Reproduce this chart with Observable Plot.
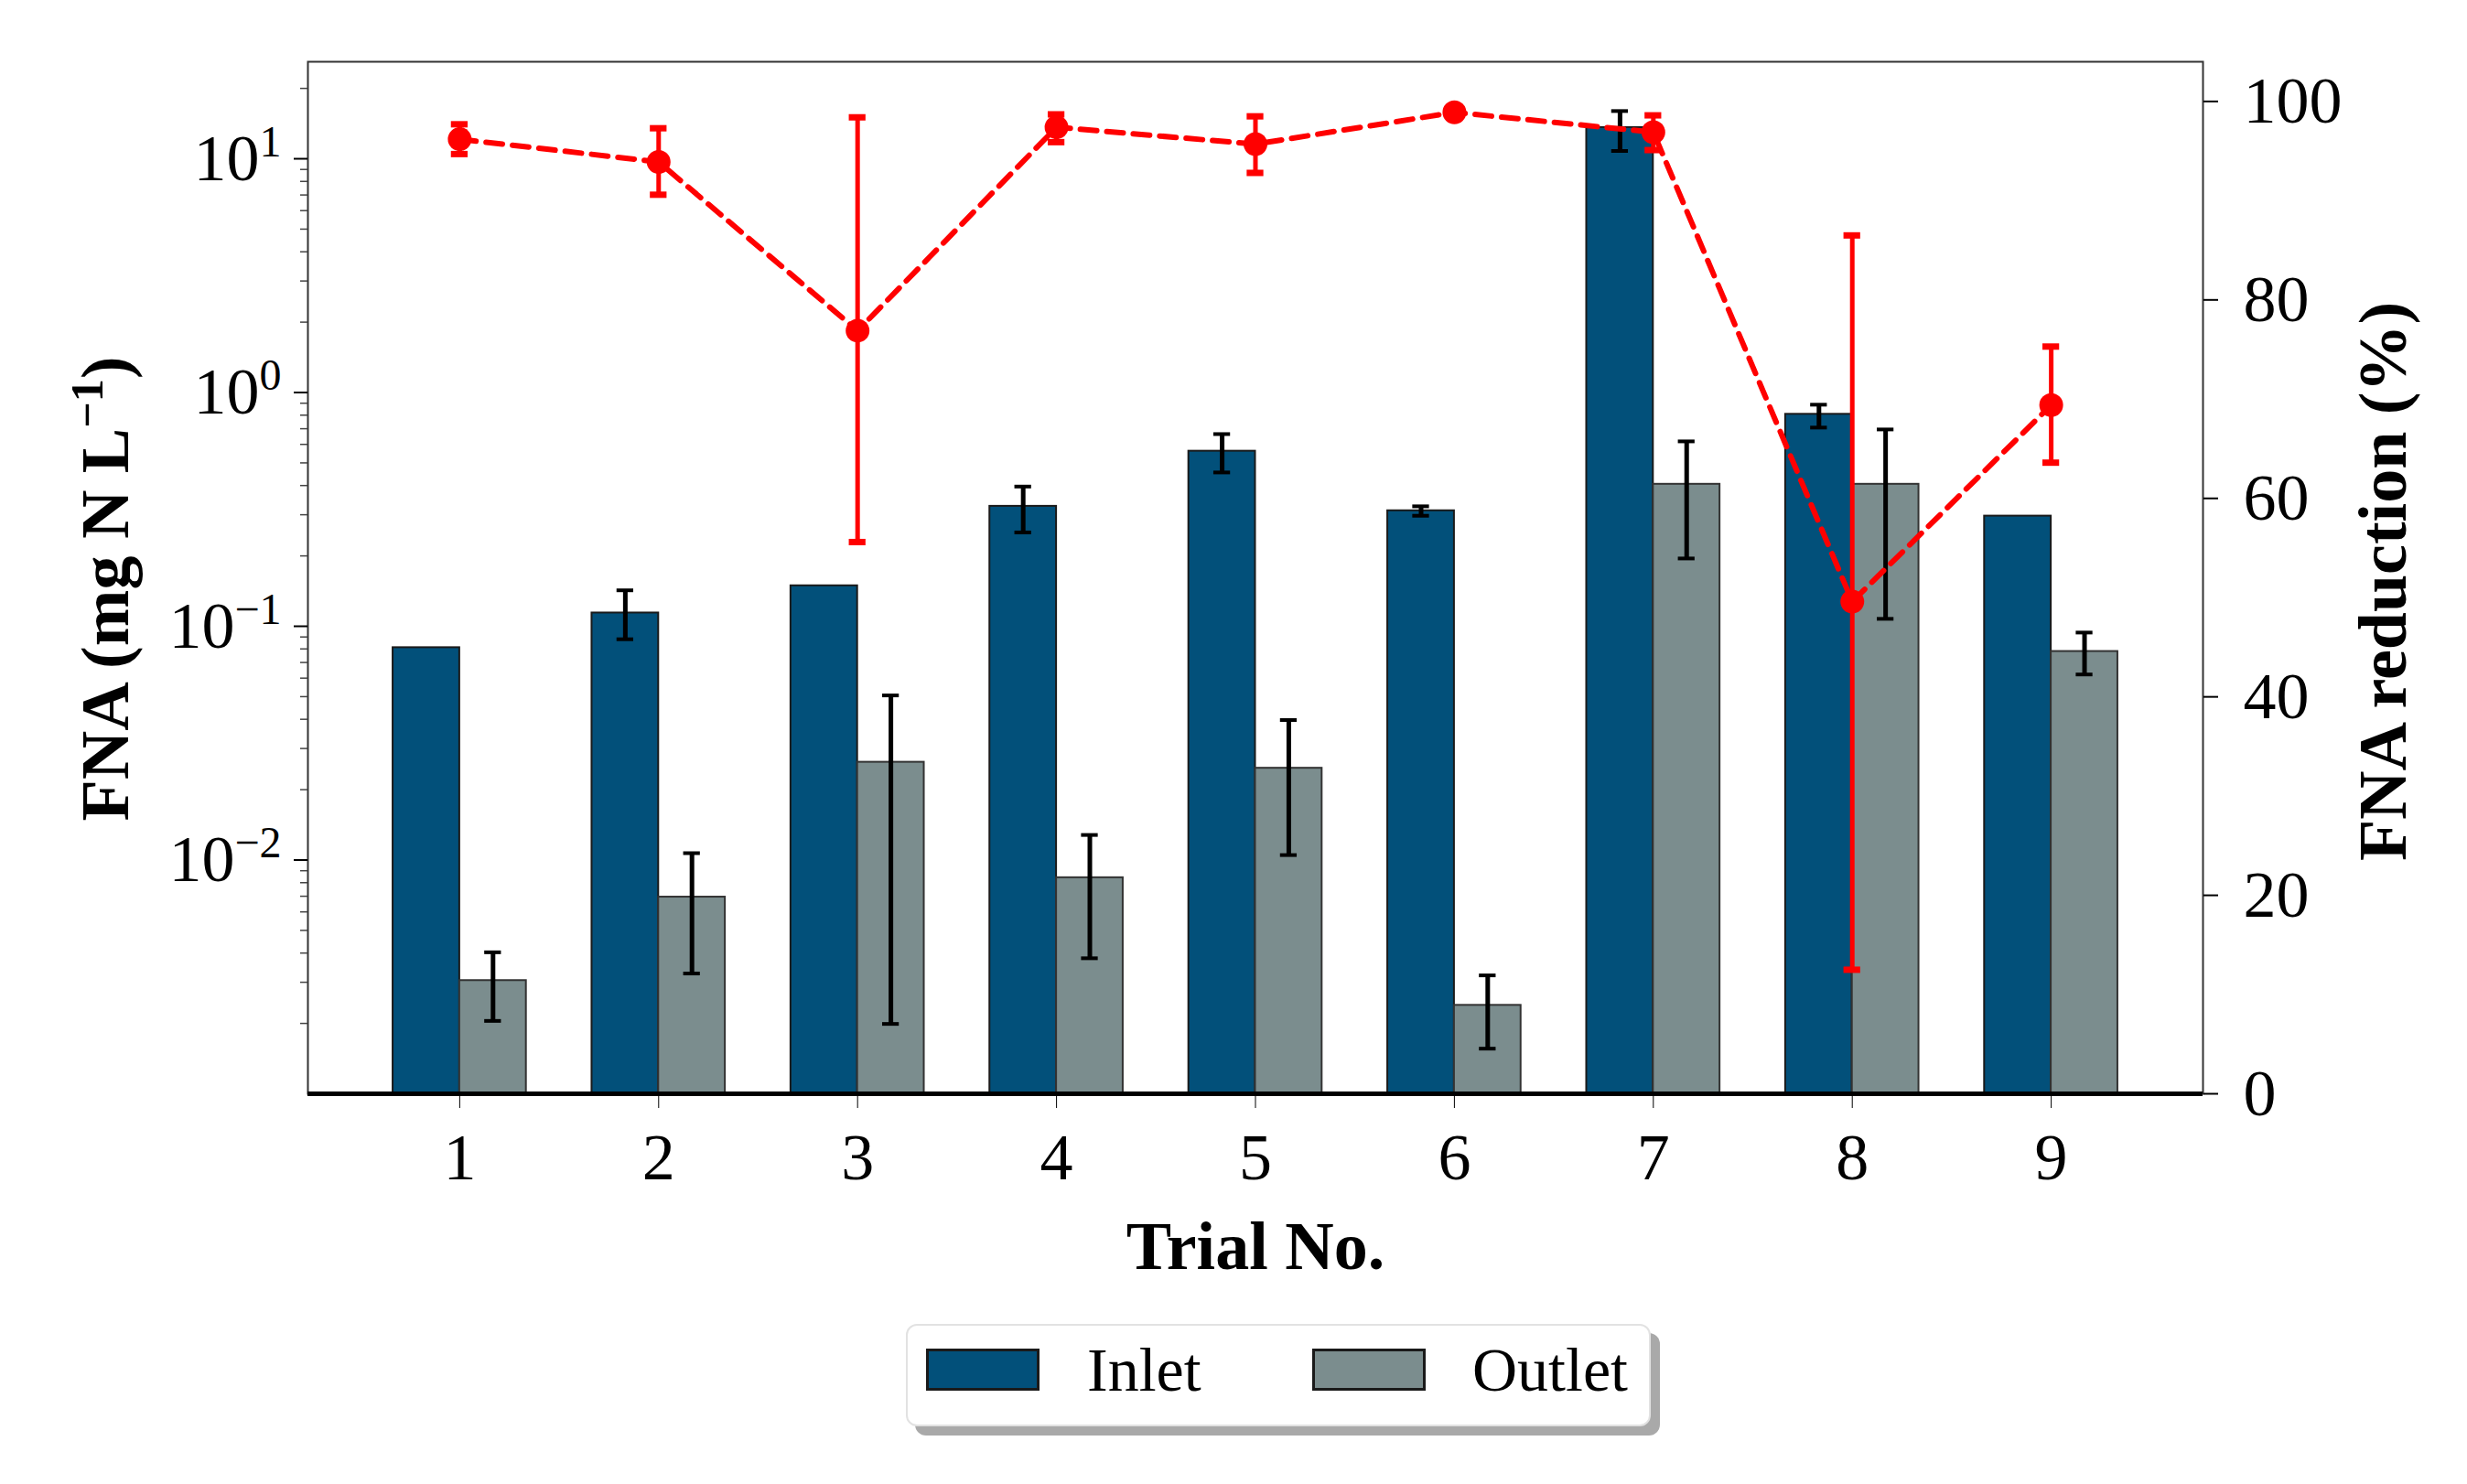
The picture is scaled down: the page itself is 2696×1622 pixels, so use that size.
<!DOCTYPE html>
<html>
<head>
<meta charset="utf-8">
<script src="https://cdn.jsdelivr.net/npm/d3@7"></script>
<script src="https://cdn.jsdelivr.net/npm/@observablehq/plot@0.6"></script>
<style>
  body { margin: 0; background: #fff; font-family: "Liberation Serif", "DejaVu Serif", serif; }
  #chart { position: relative; width: 2696px; height: 1400px; }
  #chart svg { position: absolute; left: 0; top: 0; }
  .legend { position: absolute; left: 990px; top: 1447px; width: 814px; height: 112px; box-sizing: border-box;
    border: 2px solid #e2e2e2; border-radius: 12px; background: #fff; box-shadow: 10px 10px 0 #a9a9a9; }
  .legend .sw { position: absolute; top: 25px; width: 124px; height: 46px; box-sizing: border-box; border: 3px solid #1a1a1a; }
  .legend .lab { position: absolute; top: 10px; font-size: 68px; line-height: 76px; color: #000; }
</style>
</head>
<body>
<div id="chart"></div>
<div class="legend">
  <div class="sw" style="left:20px;background:#02507a"></div>
  <div class="lab" style="left:196px">Inlet</div>
  <div class="sw" style="left:442px;background:#7b8d8e"></div>
  <div class="lab" style="left:617px">Outlet</div>
</div>
<script>
// Trial numbers
const trials = [1, 2, 3, 4, 5, 6, 7, 8, 9]
// FNA inlet (mg N/L), with error bar ends (null = no bar drawn)
const inletMean = [0.081, 0.114, 0.149, 0.326, 0.561, 0.312, 13.6, 0.807, 0.296]
const inletLow  = [null, 0.088, null, 0.252, 0.455, 0.297, 10.8, 0.708, null]
const inletHigh = [null, 0.1425, null, 0.396, 0.664, 0.326, 16.0, 0.887, null]
// FNA outlet (mg N/L)
const outletMean = [0.00305, 0.00694, 0.0262, 0.0084, 0.0247, 0.00239, 0.405, 0.405, 0.078]
const outletLow  = [0.00205, 0.00327, 0.00199, 0.0038, 0.0105, 0.00156, 0.195, 0.1076, 0.0622]
const outletHigh = [0.00403, 0.0107, 0.0506, 0.0128, 0.0397, 0.00321, 0.618, 0.695, 0.094]
// FNA reduction (%)
const reduction     = [96.2, 93.9, 76.9, 97.4, 95.7, 98.9, 96.9, 49.6, 69.4]
const reductionLow  = [94.7, 90.6, 55.6, 95.9, 92.8, 98.6, 95.1, 12.5, 63.6]
const reductionHigh = [97.7, 97.3, 98.4, 98.7, 98.5, 99.2, 98.6, 86.5, 75.3]
// tick values
const majorTicks = [1e-2, 1e-1, 1, 10]
const rightTicks = [0, 20, 40, 60, 80, 100]

const inletColor = "#02507a"
const outletColor = "#7b8d8e"
const W = 2696, H = 1400
const margins = {marginTop: 67, marginRight: 289, marginBottom: 205, marginLeft: 336}
const xDomain = [0.237, 9.763]
const yMin = 1e-3
const barW = 0.335
const cap = 0.042

const rows = trials.map((t, i) => ({
  trial: t,
  inlet: inletMean[i], inletLow: inletLow[i], inletHigh: inletHigh[i],
  outlet: outletMean[i], outletLow: outletLow[i], outletHigh: outletHigh[i],
  red: reduction[i], redLow: reductionLow[i], redHigh: reductionHigh[i]
}))
const inErr = rows.filter(d => d.inletLow != null)

// minor log ticks 2..9 x 10^k
const minorTicks = d3.range(-3, 2).flatMap(e => d3.range(2, 10).map(m => m * Math.pow(10, e))).filter(v => v <= 26)

// grafico principal: barras en escala log
const chartMain = Plot.plot({
  width: W, height: H, ...margins,
  style: {background: "none", color: "black", fontFamily: "Liberation Serif, serif", overflow: "visible"},
  x: {domain: xDomain},
  y: {type: "log", domain: [yMin, 26]},
  marks: [
    Plot.rect(rows, {x1: d => d.trial - barW, x2: "trial", y1: yMin, y2: "inlet", fill: inletColor, stroke: "#1a1a1a", strokeWidth: 2}),
    Plot.rect(rows, {x1: "trial", x2: d => d.trial + barW, y1: yMin, y2: "outlet", fill: outletColor, stroke: "#333", strokeWidth: 2}),
    // error bars inlet
    Plot.ruleX(inErr, {x: d => d.trial - barW / 2, y1: "inletLow", y2: "inletHigh", stroke: "black", strokeWidth: 5}),
    Plot.ruleY(inErr, {y: "inletHigh", x1: d => d.trial - barW / 2 - cap, x2: d => d.trial - barW / 2 + cap, stroke: "black", strokeWidth: 4}),
    Plot.ruleY(inErr, {y: "inletLow", x1: d => d.trial - barW / 2 - cap, x2: d => d.trial - barW / 2 + cap, stroke: "black", strokeWidth: 4}),
    // error bars outlet
    Plot.ruleX(rows, {x: d => d.trial + barW / 2, y1: "outletLow", y2: "outletHigh", stroke: "black", strokeWidth: 5}),
    Plot.ruleY(rows, {y: "outletHigh", x1: d => d.trial + barW / 2 - cap, x2: d => d.trial + barW / 2 + cap, stroke: "black", strokeWidth: 4}),
    Plot.ruleY(rows, {y: "outletLow", x1: d => d.trial + barW / 2 - cap, x2: d => d.trial + barW / 2 + cap, stroke: "black", strokeWidth: 4}),
    Plot.frame({stroke: "#333", strokeWidth: 2}),
    Plot.ruleY([yMin], {stroke: "black", strokeWidth: 5}),
    Plot.axisX({ticks: trials, tickSize: 16, tickPadding: 26, fontSize: 72, tickFormat: d => String(d), label: null}),
    Plot.axisY({anchor: "left", ticks: minorTicks, tickSize: 8, tickFormat: () => "", stroke: "#444", strokeWidth: 1.5, label: null}),
    Plot.axisY({anchor: "left", ticks: majorTicks, tickSize: 15, tickPadding: 14, strokeWidth: 2, fontSize: 72,
      tickFormat: d => `10^${Math.round(Math.log10(d))}`, label: null}),
    Plot.text(["Trial No."], {frameAnchor: "bottom", dy: 168, lineAnchor: "middle", textAnchor: "middle", fontSize: 74, fontWeight: "bold"}),
    Plot.text(["FNA (mg N L^-1)"], {frameAnchor: "left", dx: -220, dy: 12, rotate: -90, textAnchor: "middle", lineAnchor: "middle", fontSize: 74, fontWeight: "bold"})
  ]
})

// grafico superpuesto: reduccion en eje derecho lineal
const chartRed = Plot.plot({
  width: W, height: H, ...margins,
  style: {background: "none", color: "black", fontFamily: "Liberation Serif, serif", overflow: "visible"},
  x: {domain: xDomain, axis: null},
  y: {domain: [0, 104]},
  marks: [
    Plot.axisY({anchor: "right", ticks: rightTicks, tickSize: 16, tickPadding: 28, strokeWidth: 2, fontSize: 72, label: null}),
    Plot.ruleX(rows, {x: "trial", y1: "redLow", y2: "redHigh", stroke: "red", strokeWidth: 5}),
    Plot.ruleY(rows, {y: "redHigh", x1: d => d.trial - cap, x2: d => d.trial + cap, stroke: "red", strokeWidth: 7}),
    Plot.ruleY(rows, {y: "redLow", x1: d => d.trial - cap, x2: d => d.trial + cap, stroke: "red", strokeWidth: 7}),
    Plot.line(rows, {x: "trial", y: "red", stroke: "red", strokeWidth: 6, strokeDasharray: "18,11"}),
    Plot.dot(rows, {x: "trial", y: "red", r: 13, fill: "red"}),
    Plot.text(["FNA reduction (%)"], {frameAnchor: "right", dx: 198, dy: 4, rotate: -90, textAnchor: "middle", lineAnchor: "middle", fontSize: 74, fontWeight: "bold"})
  ]
})

d3.select('#chart').append(() => chartMain)
d3.select('#chart').append(() => chartRed)

// exponentes como superindice
d3.select(chartMain).selectAll('g[aria-label="y-axis tick label"] text').each(function () {
  const s = this.textContent
  if (!s.includes("^")) return
  const [base, exp] = s.split("^")
  const t = d3.select(this)
  t.text(null)
  t.append("tspan").text(base)
  t.append("tspan").attr("dy", -26).attr("font-size", 48).text(exp.replace("-", "\u2212"))
})
d3.select(chartMain).selectAll("text").each(function () {
  if (this.textContent !== "FNA (mg N L^-1)") return
  const t = d3.select(this)
  t.text(null)
  t.append("tspan").text("FNA (mg N L")
  t.append("tspan").attr("dy", -28).attr("font-size", 50).text("\u22121")
  t.append("tspan").attr("dy", 28).text(")")
})
</script>
</body>
</html>
